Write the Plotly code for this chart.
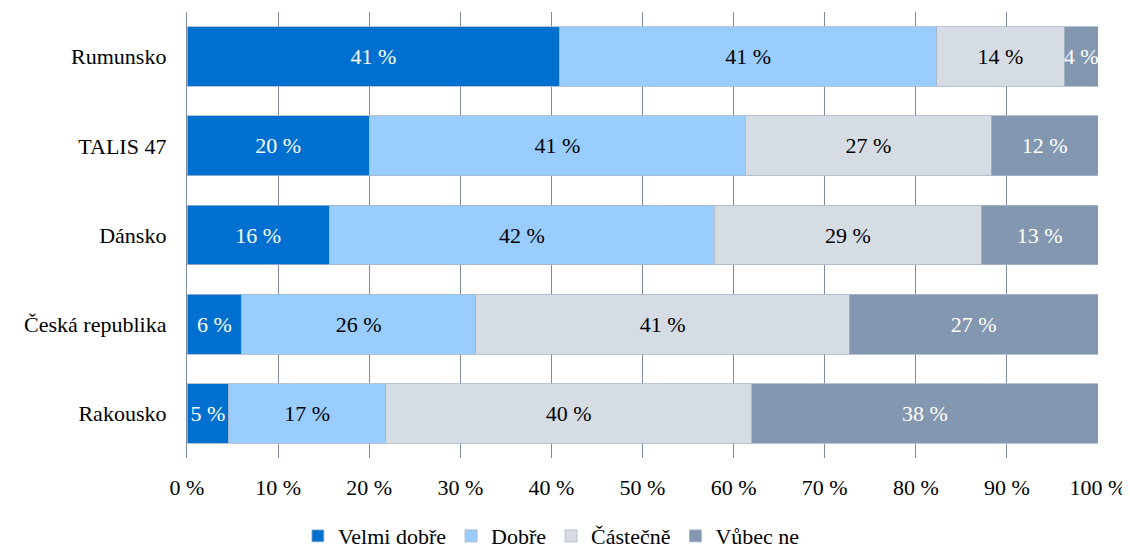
import plotly.graph_objects as go

countries = ["Rumunsko", "TALIS 47", "Dánsko", "Česká republika", "Rakousko"]
series_names = ["Velmi dobře", "Dobře", "Částečně", "Vůbec ne"]
velmi_dobre = [40.9, 20.0, 15.6, 6.0, 4.6]
dobre = [41.4, 41.3, 42.3, 25.7, 17.2]
castecne = [14.0, 27.0, 29.3, 41.0, 40.2]
vubec_ne = [3.7, 11.7, 12.8, 27.3, 38.0]
tick_vals = [0, 10, 20, 30, 40, 50, 60, 70, 80, 90, 100]
tick_text = [f"{v} %" for v in tick_vals]

colors = ["#0070D0", "#99CCFF", "#D6DCE4", "#8497B0"]
text_colors = ["white", "black", "black", "white"]

FONT = "Liberation Serif"
FS = 22

fig = go.Figure()
for name, vals, col, tcol in zip(series_names, [velmi_dobre, dobre, castecne, vubec_ne], colors, text_colors):
    fig.add_trace(go.Bar(
        y=countries, x=vals, name=name, orientation="h",
        marker=dict(color=col, line=dict(color="#A9B6C8", width=0.8)),
        text=[f"{round(v)} %" for v in vals],
        textposition="inside", insidetextanchor="middle", textangle=0,
        textfont=dict(color=tcol, size=FS, family=FONT),
        constraintext="none",
        cliponaxis=False,
        hoverinfo="skip",
    ))

# page body has an 8px default margin, so the figure is sized to fit the window
fig.update_layout(
    barmode="stack",
    bargap=0.33,
    width=1122, height=543,
    margin=dict(l=179, r=32, t=4, b=93, autoexpand=False),
    plot_bgcolor="white", paper_bgcolor="white",
    font=dict(family=FONT, size=FS, color="black"),
    uniformtext=dict(minsize=FS, mode="show"),
    legend=dict(orientation="h", x=0.40, xanchor="center", y=-0.128, yanchor="top",
                font=dict(size=FS, family=FONT), traceorder="normal",
                itemwidth=30, tracegroupgap=0),
    xaxis=dict(range=[0, 100], tickvals=tick_vals, ticktext=tick_text,
               showgrid=True, gridcolor="#7F8C9F", gridwidth=1.3,
               zeroline=False, showline=False, ticks="", ticklen=0,
               ticklabelstandoff=14,
               tickfont=dict(size=FS, family=FONT)),
    yaxis=dict(autorange="reversed", showgrid=False, showline=True,
               linecolor="#7F8C9F", linewidth=1.3, ticks="",
               ticklabelstandoff=15,
               tickfont=dict(size=FS, family=FONT)),
)

fig.write_html("out.html")
